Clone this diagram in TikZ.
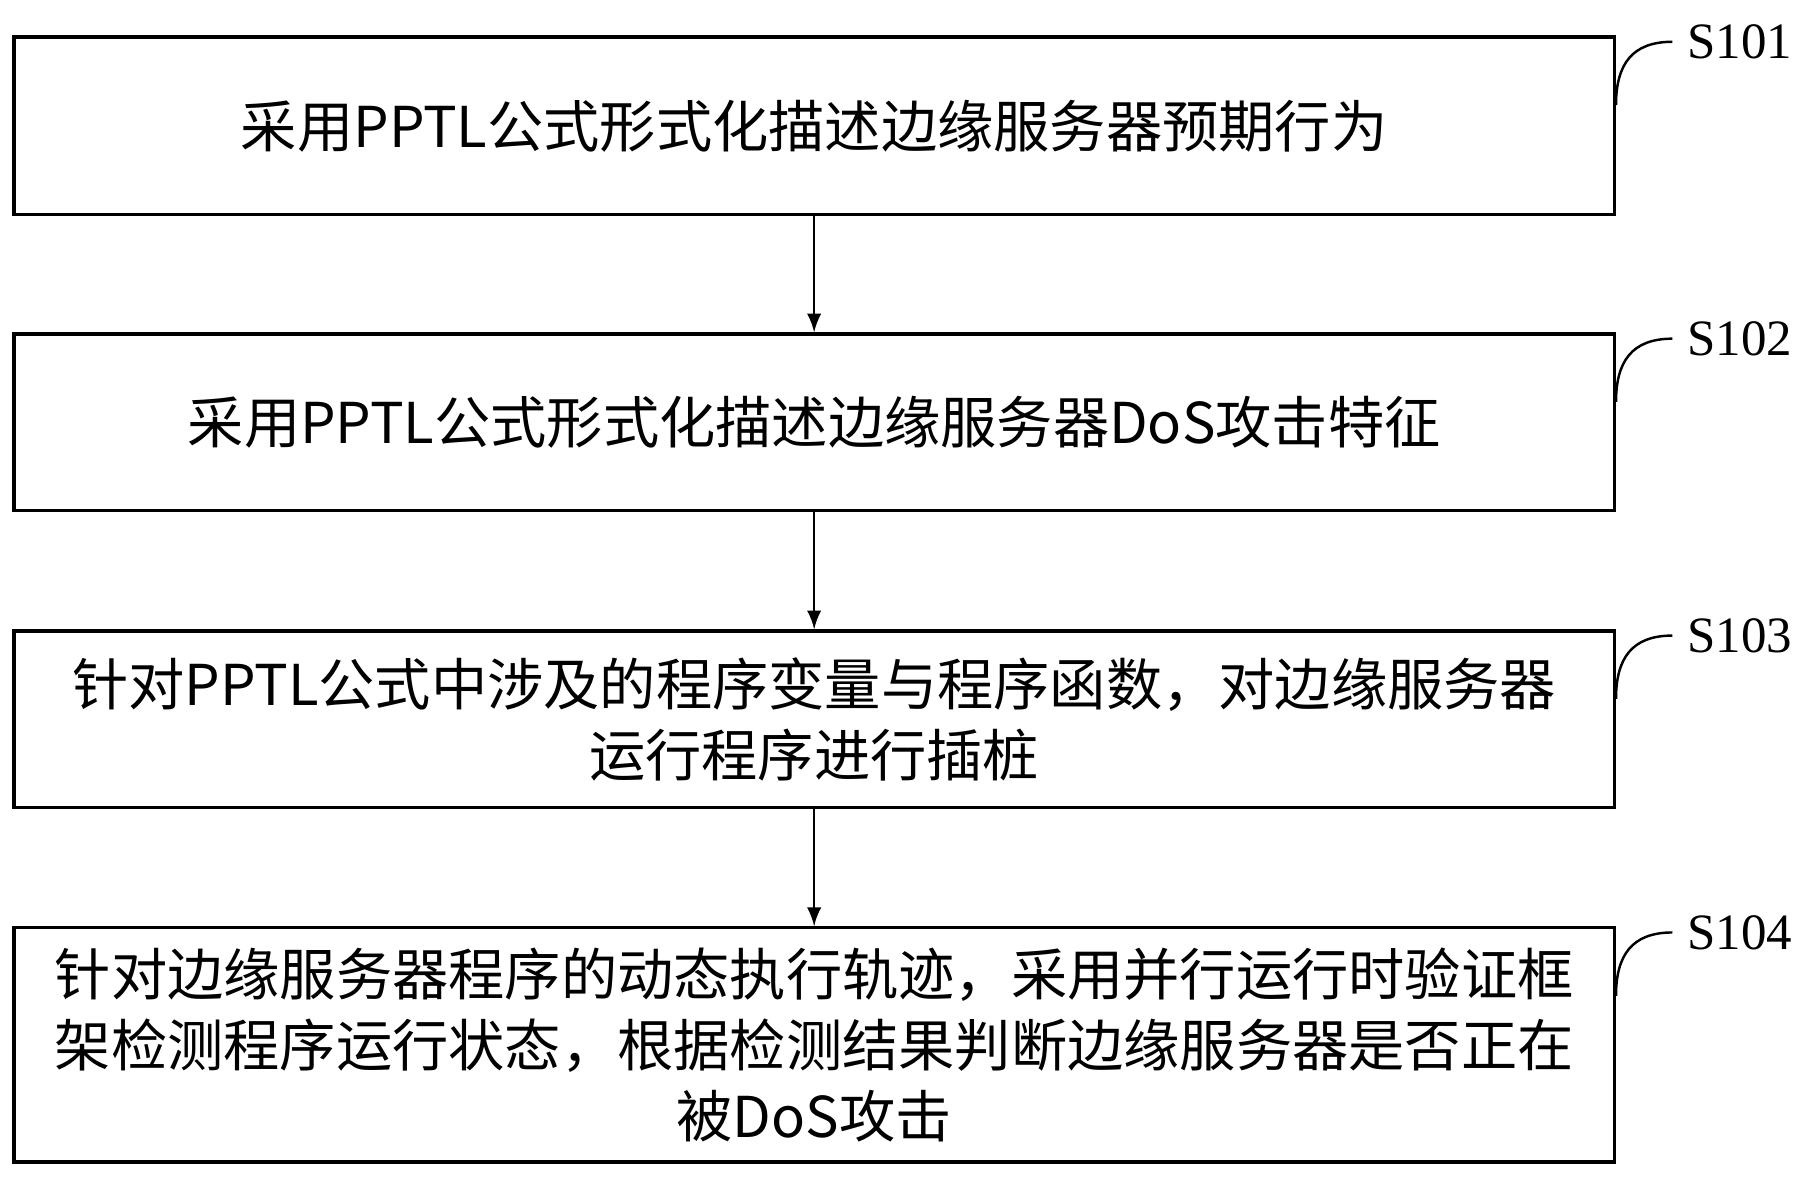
\documentclass[tikz,border=0pt]{standalone}
\usepackage{fontspec}
\setmainfont{Liberation Serif}
\newfontfamily\cjk{Noto Sans CJK SC}
\usetikzlibrary{arrows,positioning}
\begin{document}
\begin{tikzpicture}[>=stealth',semithick]
\tikzset{box/.style={draw,thick,rectangle,minimum width=13.8cm,align=center,font=\cjk\fontsize{13.8}{17.4}\selectfont},
         tag/.style={font=\fontsize{12.5}{14}\selectfont}}
\useasboundingbox (0,0) rectangle (15.65,-10.15);

\node[box,minimum height=1.53cm] (b1) at (7.02,-1.085) {采用PPTL公式形式化描述边缘服务器预期行为};
\node[box,minimum height=1.52cm] (b2) at (7.02,-3.64) {采用PPTL公式形式化描述边缘服务器DoS攻击特征};
\node[box,minimum height=1.52cm] (b3) at (7.02,-6.20) {针对PPTL公式中涉及的程序变量与程序函数，对边缘服务器\\运行程序进行插桩};
\node[box,minimum height=2.02cm] (b4) at (7.02,-9.01) {针对边缘服务器程序的动态执行轨迹，采用并行运行时验证框\\架检测程序运行状态，根据检测结果判断边缘服务器是否正在\\被DoS攻击};

\node[tag] (s1) at (15.0,-0.36) {S101};
\node[tag] (s2) at (15.0,-2.92) {S102};
\node[tag] (s3) at (15.0,-5.48) {S103};
\node[tag] (s4) at (15.0,-8.04) {S104};

\draw[->,>=latex] (b1) -- (b2);
\draw[->,>=latex] (b2) -- (b3);
\draw[->,>=latex] (b3) -- (b4);

\foreach \i in {1,2,3,4}
  \draw (s\i.west) .. controls +(-0.35,0) and +(0,0.35) .. ([yshift=-0.6cm]b\i.north east);
\end{tikzpicture}
\end{document}
